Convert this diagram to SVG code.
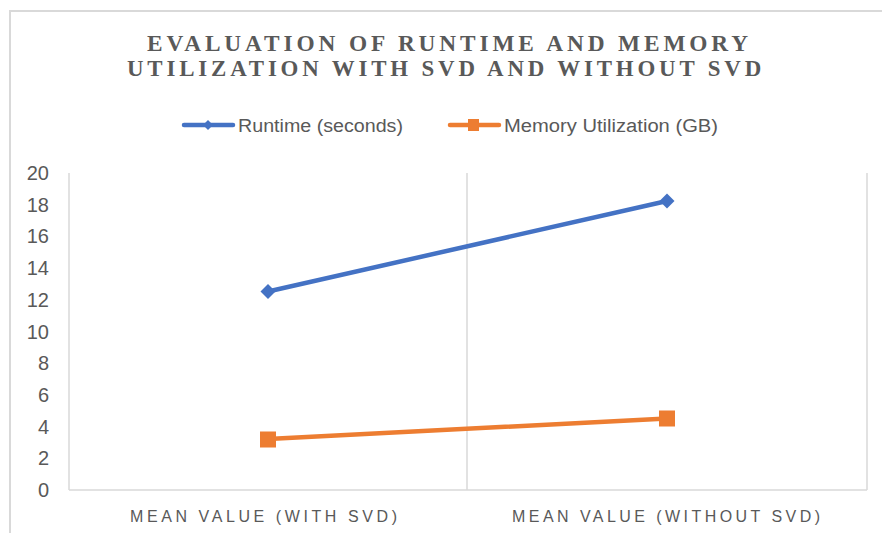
<svg xmlns="http://www.w3.org/2000/svg" width="882" height="533" viewBox="0 0 882 533">
<style>
.frame{fill:#fff;stroke:#d9d9d9;stroke-width:2}
.grid{stroke:#d9d9d9;stroke-width:1.5;fill:none}
.title{font-family:"Liberation Serif",serif;font-weight:bold;font-size:24px;letter-spacing:4px;fill:#595959}
.leg{font-family:"Liberation Sans",sans-serif;font-size:18px;fill:#595959}
.ax{font-family:"Liberation Sans",sans-serif;font-size:20px;fill:#595959;text-anchor:end}
.cat{font-family:"Liberation Sans",sans-serif;font-size:16px;fill:#595959}
.blue{stroke:#4472c4;stroke-width:4.5;fill:none;stroke-linecap:round}
.orange{stroke:#ed7d31;stroke-width:4.5;fill:none;stroke-linecap:round}
</style>
<defs>
<path id="dia" d="M0,-7.5 L7.5,0 L0,7.5 L-7.5,0 Z" fill="#4472c4"/>
<rect id="sq" x="-8" y="-8" width="16" height="16" fill="#ed7d31"/>
</defs>
<rect class="frame" x="10" y="11" width="900" height="600"/>
<g id="title">
<text class="title" x="147" y="51" textLength="605" lengthAdjust="spacingAndGlyphs">EVALUATION OF RUNTIME AND MEMORY</text>
<text class="title" x="127" y="76" textLength="638" lengthAdjust="spacingAndGlyphs">UTILIZATION WITH SVD AND WITHOUT SVD</text>
</g>
<g id="legend">
<line class="blue" x1="184" y1="125" x2="233" y2="125" stroke-width="4"/>
<path d="M208,120 L213,125 L208,130 L203,125 Z" fill="#4472c4"/>
<text class="leg" x="238" y="131.5" textLength="165" lengthAdjust="spacingAndGlyphs">Runtime (seconds)</text>
<line class="orange" x1="450" y1="125" x2="499" y2="125" stroke-width="4"/>
<rect x="468" y="119" width="11" height="12" fill="#ed7d31"/>
<text class="leg" x="504" y="131.5" textLength="214" lengthAdjust="spacingAndGlyphs">Memory Utilization (GB)</text>
</g>
<g id="axes">
<line class="grid" x1="69" y1="173" x2="69" y2="490"/>
<line class="grid" x1="467" y1="173" x2="467" y2="490"/>
<line class="grid" x1="867" y1="173" x2="867" y2="490"/>
<line class="grid" x1="69" y1="490" x2="867" y2="490"/>
<text class="ax" x="49" y="180">20</text>
<text class="ax" x="49" y="211.7">18</text>
<text class="ax" x="49" y="243.4">16</text>
<text class="ax" x="49" y="275.1">14</text>
<text class="ax" x="49" y="306.8">12</text>
<text class="ax" x="49" y="338.5">10</text>
<text class="ax" x="49" y="370.2">8</text>
<text class="ax" x="49" y="401.9">6</text>
<text class="ax" x="49" y="433.6">4</text>
<text class="ax" x="49" y="465.3">2</text>
<text class="ax" x="49" y="497">0</text>
<text class="cat" x="130" y="521.5" textLength="267" lengthAdjust="spacing">MEAN VALUE (WITH SVD)</text>
<text class="cat" x="512" y="521.5" textLength="308" lengthAdjust="spacing">MEAN VALUE (WITHOUT SVD)</text>
</g>
<g id="connectors">
<line class="blue" x1="268" y1="291.5" x2="667" y2="201"/>
<line class="orange" x1="268" y1="439" x2="667" y2="418.5"/>
</g>
<g id="runtime">
<use href="#dia" x="268" y="291.5"/>
<use href="#dia" x="667" y="201"/>
</g>
<g id="memory">
<use href="#sq" x="268" y="439.5"/>
<use href="#sq" x="667" y="418.5"/>
</g>
</svg>
